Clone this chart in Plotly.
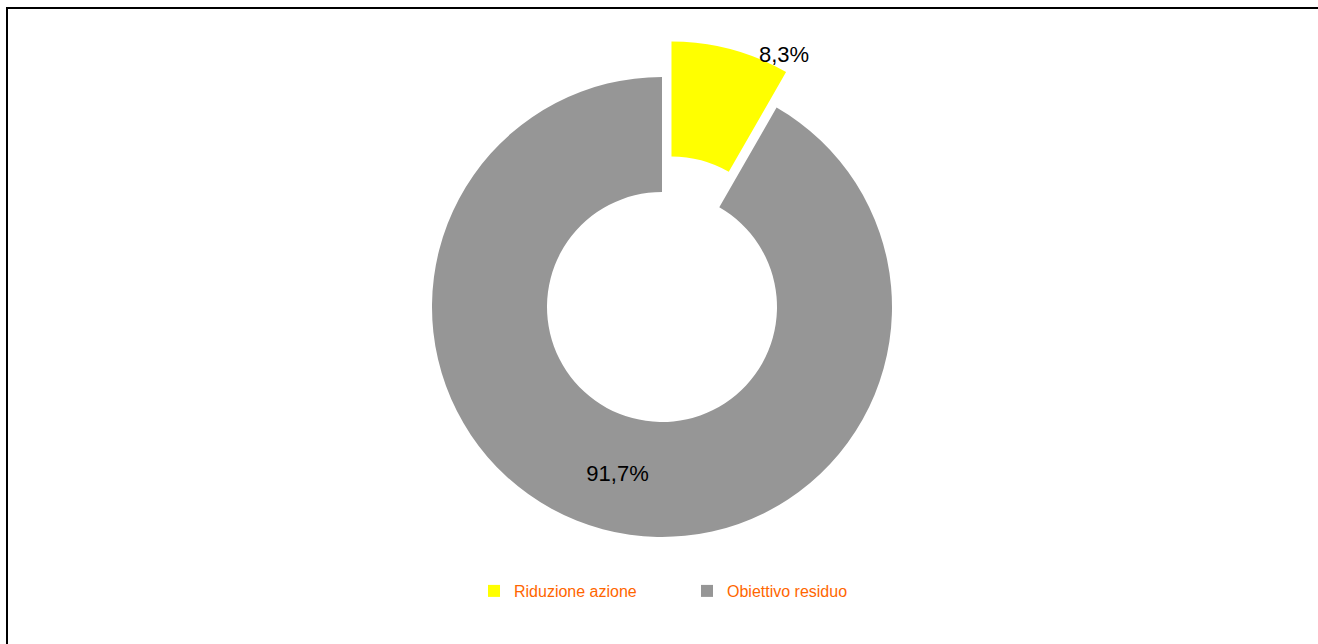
import plotly.graph_objects as go

categories = ["Riduzione azione", "Obiettivo residuo"]
values = [8.3, 91.7]
colors = ["#FFFF00", "#969696"]
pulls = [0.16, 0]

W, H = 1318, 644
cx, cy = 662, 307
r = 230
half = r * (1 + max(pulls))

total = sum(values)
pct_labels = [f"{v / total * 100:.1f}%".replace(".", ",") for v in values]
# first slice label is placed outside (as in the original "best fit"), second inside
slice_text = ["", pct_labels[1]]

fig = go.Figure(go.Pie(
    labels=categories,
    values=values,
    text=slice_text,
    marker=dict(colors=colors, line=dict(width=0)),
    hole=0.5,
    pull=pulls,
    sort=False,
    direction="clockwise",
    rotation=0,
    textinfo="text",
    textposition="inside",
    insidetextorientation="horizontal",
    textfont=dict(family="Liberation Sans, Arial", size=22, color="black"),
    domain=dict(x=[(cx - 300) / W, (cx + 300) / W],
                y=[(H - (cy + half)) / H, (H - (cy - half)) / H]),
    hoverinfo="label+percent",
))

fig.add_annotation(
    text=pct_labels[0], xref="paper", yref="paper",
    x=784 / W, y=(H - 55) / H, xanchor="center", yanchor="middle",
    showarrow=False,
    font=dict(family="Liberation Sans, Arial", size=22, color="black"),
)

border = dict(color="black", width=2)
fig.update_layout(
    width=W, height=H,
    margin=dict(l=0, r=0, t=0, b=0, autoexpand=False),
    paper_bgcolor="white",
    separators=",.",
    showlegend=True,
    legend=dict(
        orientation="h",
        x=474 / W, xanchor="left",
        y=(H - 591) / H, yanchor="middle",
        font=dict(family="Liberation Sans, Arial", size=16, color="#FF6600"),
        entrywidth=168,
        bgcolor="rgba(0,0,0,0)",
    ),
    shapes=[
        dict(type="line", xref="paper", yref="paper",
             x0=7 / W, x1=7 / W, y0=0, y1=1 - 7 / H, line=border),
        dict(type="line", xref="paper", yref="paper",
             x0=6 / W, x1=1, y0=1 - 8 / H, y1=1 - 8 / H, line=border),
    ],
)

fig.write_html("out.html", config={"displayModeBar": False},
               post_script="document.body.style.margin='0';")
